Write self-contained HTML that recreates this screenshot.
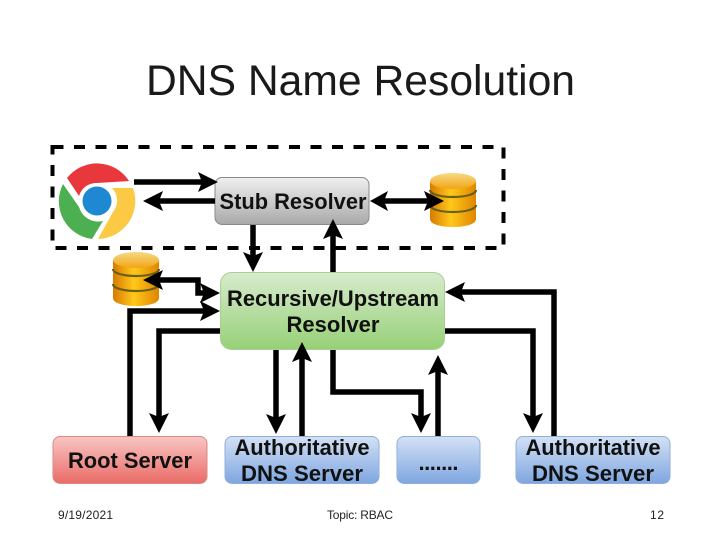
<!DOCTYPE html>
<html>
<head>
<meta charset="utf-8">
<style>
html,body{margin:0;padding:0;background:#fff;width:720px;height:540px;overflow:hidden}
svg{display:block}
text{font-family:"Liberation Sans",sans-serif}
.b{font-weight:bold;fill:#111;font-size:22px;text-anchor:middle}
.f{font-size:12px;fill:#222}
.l{fill:none;stroke:#000;stroke-width:5.5}
</style>
</head>
<body>
<svg width="720" height="540" viewBox="0 0 720 540" xmlns="http://www.w3.org/2000/svg">
<defs>
<linearGradient id="gy" x1="0" y1="0" x2="0" y2="1"><stop offset="0" stop-color="#f0f0f0"/><stop offset="1" stop-color="#a9a9a9"/></linearGradient>
<linearGradient id="gg" x1="0" y1="0" x2="0" y2="1"><stop offset="0" stop-color="#d7ebcd"/><stop offset="1" stop-color="#97d077"/></linearGradient>
<linearGradient id="gr" x1="0" y1="0" x2="0" y2="1"><stop offset="0" stop-color="#f8c6c4"/><stop offset="1" stop-color="#ea6b66"/></linearGradient>
<linearGradient id="gb" x1="0" y1="0" x2="0" y2="1"><stop offset="0" stop-color="#d4e1f5"/><stop offset="1" stop-color="#7ea6e0"/></linearGradient>
<linearGradient id="go" x1="0" y1="0" x2="1" y2="0"><stop offset="0" stop-color="#d87a00"/><stop offset="0.45" stop-color="#ffc81a"/><stop offset="1" stop-color="#e08500"/></linearGradient>
<linearGradient id="gt" x1="0" y1="0" x2="0" y2="1"><stop offset="0" stop-color="#f6d985"/><stop offset="1" stop-color="#f2a516"/></linearGradient>
<g id="db">
<path d="M0 8V46C0 51 10 54 23 54S46 51 46 46V8Z" fill="url(#go)"/>
<path d="M0 32C0 36 10 39 23 39S46 36 46 32" fill="none" stroke="#6a5f18" stroke-width="2.2"/>
<path d="M0 17C0 21 10 24 23 24S46 21 46 17" fill="none" stroke="#6a5f18" stroke-width="2.2"/>
<ellipse cx="23" cy="8" rx="23" ry="8" fill="url(#gt)"/>
</g>
</defs>

<text x="146" y="95" font-size="43" textLength="429" lengthAdjust="spacingAndGlyphs" fill="#1a1a1a">DNS Name Resolution</text>

<rect x="52.5" y="147" width="451" height="101" fill="none" stroke="#000" stroke-width="4" stroke-dasharray="11 10.5"/>

<!-- Chrome icon -->
<path d="M67 178A38 38 0 0 1 129 181L97 183A18 18 0 0 0 79 196Z" fill="#e8383d"/>
<path d="M63 184L79 207A20 20 0 0 0 103 221L92 239A38 38 0 0 1 63 184Z" fill="#4caf50"/>
<path d="M112 188L133 188A38 38 0 0 1 98 239L113 212A18 18 0 0 0 112 188Z" fill="#fbc944"/>
<circle cx="97" cy="201" r="18" fill="#fff"/>
<circle cx="97" cy="201" r="14.5" fill="#1e88d2"/>

<use href="#db" x="430" y="173"/>
<use href="#db" x="113" y="252"/>

<!-- Boxes -->
<rect x="215" y="177.500" width="154" height="47" rx="7" fill="url(#gy)" stroke="#8a8a8a"/>
<rect x="220.500" y="272.500" width="224" height="77" rx="11" fill="url(#gg)" stroke="#a9cf93"/>
<rect x="53" y="436.500" width="154" height="47" rx="7" fill="url(#gr)" stroke="#dc8a86"/>
<rect x="225" y="436.500" width="154" height="47" rx="7" fill="url(#gb)" stroke="#8fb0dc"/>
<rect x="397" y="436.500" width="83" height="47" rx="7" fill="url(#gb)" stroke="#8fb0dc"/>
<rect x="516" y="436.500" width="154" height="47" rx="7" fill="url(#gb)" stroke="#8fb0dc"/>

<!-- Lines -->
<path class="l" d="M134 182H204"/>
<path class="l" d="M215 201H156"/>
<path class="l" d="M383 201H431"/>
<path class="l" d="M253 225V258"/>
<path class="l" d="M333 272V232"/>
<path class="l" d="M156 280H198V293H206"/>
<path class="l" d="M130 436V311H206"/>
<path class="l" d="M220 331H159V420"/>
<path class="l" d="M276 350V421"/>
<path class="l" d="M302 436V355"/>
<path class="l" d="M333 350V392H421V420"/>
<path class="l" d="M438 436V368"/>
<path class="l" d="M445 331H533V420"/>
<path class="l" d="M554 436V292H458"/>

<!-- Arrowheads -->
<g fill="#000">
<path d="M218 182L198 172L202 182L198 192Z"/>
<path d="M143 201L163 191L159 201L163 211Z"/>
<path d="M370 201L388 191L384 201L388 211Z"/>
<path d="M444 201L424 191L428 201L424 211Z"/>
<path d="M253 272L243 252L253 256L263 252Z"/>
<path d="M333 219L323 239L333 235L343 239Z"/>
<path d="M143 280L163 270L159 280L163 290Z"/>
<path d="M220 293L200 283L204 293L200 303Z"/>
<path d="M220 311L200 301L204 311L200 321Z"/>
<path d="M159 433L149 413L159 417L169 413Z"/>
<path d="M276 434L266 414L276 418L286 414Z"/>
<path d="M302 342L292 362L302 358L312 362Z"/>
<path d="M421 433L411 413L421 417L431 413Z"/>
<path d="M438 355L428 375L438 371L448 375Z"/>
<path d="M533 433L523 413L533 417L543 413Z"/>
<path d="M445 292L465 282L461 292L465 302Z"/>
</g>

<!-- Node labels -->
<text class="b" x="293" y="209" textLength="147" lengthAdjust="spacingAndGlyphs">Stub Resolver</text>
<text class="b" x="333" y="306" textLength="212" lengthAdjust="spacingAndGlyphs">Recursive/Upstream</text>
<text class="b" x="333" y="332" textLength="93" lengthAdjust="spacingAndGlyphs">Resolver</text>
<text class="b" x="130" y="468" textLength="124" lengthAdjust="spacingAndGlyphs">Root Server</text>
<text class="b" x="302" y="455" textLength="135" lengthAdjust="spacingAndGlyphs">Authoritative</text>
<text class="b" x="302" y="481" textLength="122" lengthAdjust="spacingAndGlyphs">DNS Server</text>
<text class="b" x="438.500" y="470" textLength="40" lengthAdjust="spacing">.......</text>
<text class="b" x="593" y="455" textLength="135" lengthAdjust="spacingAndGlyphs">Authoritative</text>
<text class="b" x="593" y="481" textLength="122" lengthAdjust="spacingAndGlyphs">DNS Server</text>

<!-- Footer -->
<text class="f" x="58" y="519" textLength="55">9/19/2021</text>
<text class="f" x="327" y="519" textLength="66">Topic: RBAC</text>
<text class="f" x="650" y="519" textLength="14">12</text>
</svg>
</body>
</html>
